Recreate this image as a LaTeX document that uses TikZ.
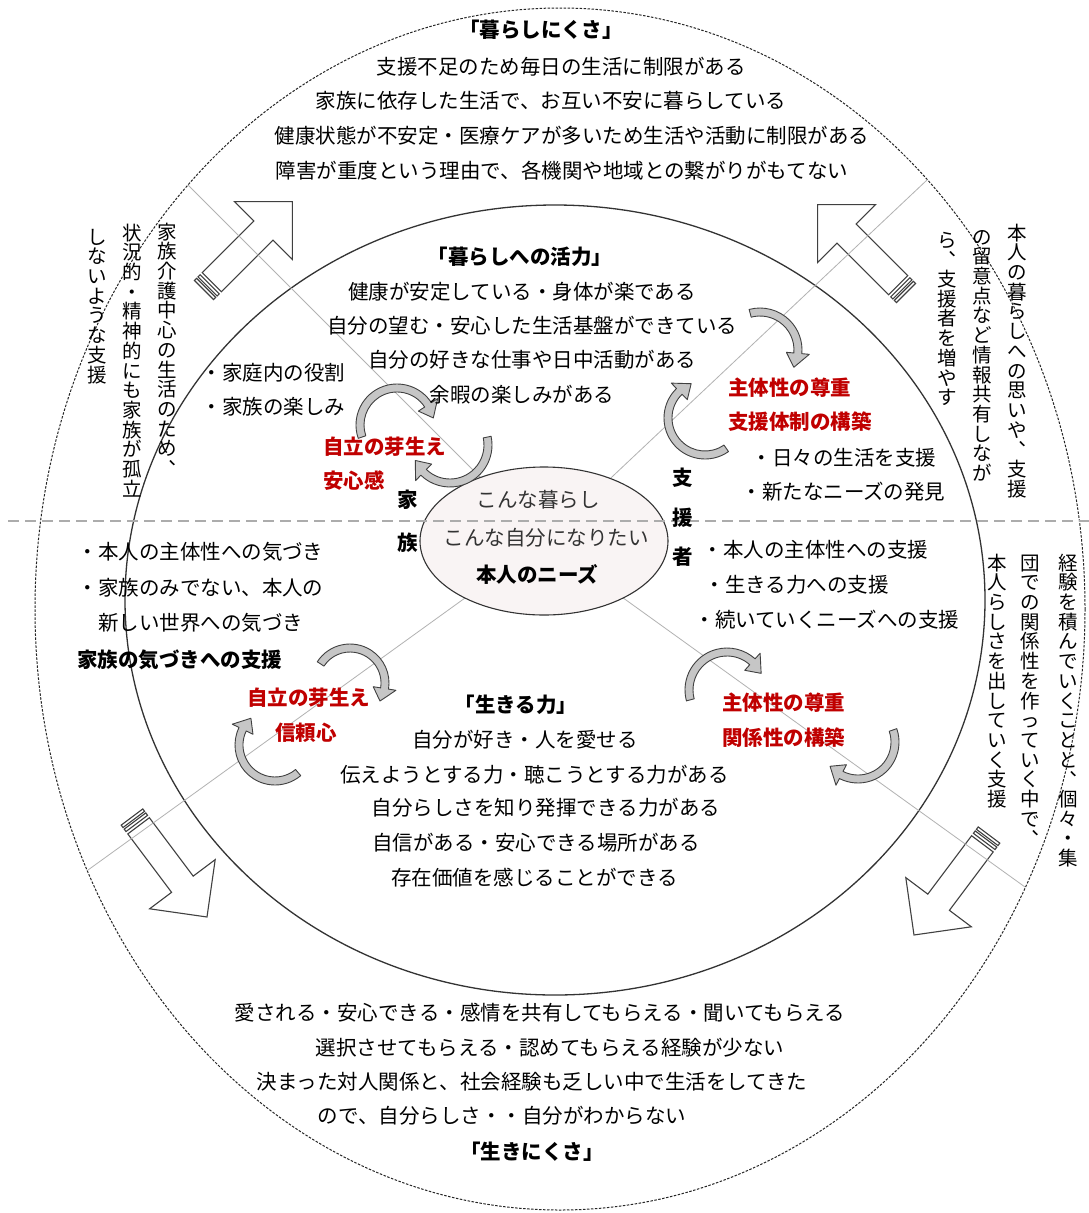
\documentclass[tikz,border=0pt]{standalone}
\usepackage{fontspec}
\usepackage{graphicx}
\setmainfont{Noto Sans CJK JP}
\usetikzlibrary{calc}
\definecolor{jred}{HTML}{C00000}
\makeatletter
\def\vc@comma{、}
\newcommand\vcol[1]{\vbox{\offinterlineskip\@tfor\vc@c:=#1\do{\vc@one}}}
\def\vc@one{\ifx\vc@c\vc@comma
  \hbox to 20pt{\hss\vbox to 19.7pt{\kern2pt\hbox{\rotatebox{180}{\vc@c}}\vss}\hss}%
 \else
  \hbox to 20pt{\hss\vbox to 19.7pt{\kern17.1pt\hbox{\smash{\vc@c}}\vss}\hss}%
 \fi}
\makeatother
\newcommand\bigarrow[3]{%
 \begin{scope}[shift={(#1,#2)}, rotate=#3]
   \draw[barrow] (0,-13.5) rectangle (3,13.5);
   \draw[barrow] (5,-13.5) rectangle (8,13.5);
   \draw[barrow] (11,-13.5) -- (84,-13.5) -- (84,-41) -- (125,0) -- (84,41) -- (84,13.5) -- (11,13.5) -- cycle;
 \end{scope}}
\newcommand\carr[5]{%
  \filldraw[carrow] ($(#1,#2)+(#4:{#3+4})$) arc[start angle=#4, end angle=#5, radius={#3+4}]
   -- ($(#1,#2)+(#5:{#3+11.5})$) -- ($(#1,#2)+({#5+22}:#3)$) -- ($(#1,#2)+(#5:{#3-11.5})$)
   -- ($(#1,#2)+(#5:{#3-4})$) arc[start angle=#5, end angle=#4, radius={#3-4}] -- cycle;}
\begin{document}
\begin{tikzpicture}[x=1pt,y=-1pt,
  every node/.style={inner sep=0pt, outer sep=0pt},
  jp/.style={font=\fontsize{20.5}{24}\selectfont, text height=18pt, text depth=2.5pt},
  jpb/.style={jp, font=\fontsize{20.5}{24}\selectfont\bfseries},
  jr/.style={jpb, text=jred},
  jc/.style={jp, text=black!80},
  vt/.style={font=\fontsize{19.5}{20}\selectfont, anchor=north},
  barrow/.style={draw=black!75, line width=1.1pt, line join=miter},
  carrow/.style={draw=black!75, fill=gray!45, line width=0.9pt, line join=round},
  guide/.style={draw=gray!60, line width=0.8pt}]
\fill[white] (0,0) rectangle (1089,1213);
\useasboundingbox (0,0) rectangle (1089,1213);

% ellipses
\draw[black!85, line width=1pt, dash pattern=on 2.5pt off 1.5pt] (560,609) ellipse [x radius=525, y radius=601];
\draw[black!80, line width=1.3pt] (555,600) ellipse [x radius=430, y radius=395];

% big hollow arrows
\bigarrow{204}{290}{45}
\bigarrow{906}{293}{135}
\bigarrow{132}{817}{-53.13}
\bigarrow{989}{835}{-126.87}

% guide lines
\coordinate (ctr) at (544,541);
\coordinate (gTL) at (188,185);
\coordinate (gTR) at (927,180);
\coordinate (gBL) at (88,870);
\coordinate (gBR) at (1025,887);
\draw[guide] (gTL) -- (ctr);
\draw[guide] (gTR) -- (ctr);
\draw[guide] (gBL) -- (ctr);
\draw[guide] (gBR) -- (ctr);

% centre ellipse
\filldraw[fill={rgb,255:red,249;green,244;blue,244}, draw=black!80, line width=1.1pt] (ctr) ellipse [x radius=124, y radius=74];

% horizontal dashed divider
\coordinate (hL) at (8,521);
\coordinate (hR) at (1089,521);
\draw[gray!65, line width=1.6pt, dash pattern=on 11pt off 6pt] (hL) -- (hR);

% curved arrows
\carr{397}{425}{37}{161}{327}
\carr{450}{445}{38}{-12}{134}
\carr{760}{350}{38}{255}{365}
\carr{705}{418}{37}{55}{226}
\carr{350}{683}{35}{213}{369}
\carr{275}{745}{36}{50}{206}
\carr{727}{690}{38}{165}{312}
\carr{858}{742}{37}{-19}{117}

% top outer text
\node[jpb] (kt) at (541,30) {「暮らしにくさ」};
\node[jp] (k1) at (561,67) {支援不足のため毎日の生活に制限がある};
\node[jp] (k2) at (551,101) {家族に依存した生活で、お互い不安に暮らしている};
\node[jp] (k3) at (572,136) {健康状態が不安定・医療ケアが多いため生活や活動に制限がある};
\node[jp] (k4) at (562,171) {障害が重度という理由で、各機関や地域との繋がりがもてない};

% inner top
\node[jpb] (at) at (520,257) {「暮らしへの活力」};
\node[jp] (a1) at (522,292) {健康が安定している・身体が楽である};
\node[jp] (a2) at (532,326) {自分の望む・安心した生活基盤ができている};
\node[jp] (a3) at (532,360) {自分の好きな仕事や日中活動がある};
\node[jp] (a4) at (522,395) {余暇の楽しみがある};

% upper left quadrant
\node[jp, anchor=west] (l1) at (201.5,373) {・家庭内の役割};
\node[jp, anchor=west] (l2) at (201.5,407) {・家族の楽しみ};
\node[jr, anchor=west] (r1) at (323,447) {自立の芽生え};
\node[jr, anchor=west] (r2) at (323,481) {安心感};
\node[jpb] (fam1) at (408,500) {家};
\node[jpb] (fam2) at (408,543) {族};

% upper right quadrant
\node[jpb] (sup1) at (683,478) {支};
\node[jpb] (sup2) at (683,518) {援};
\node[jpb] (sup3) at (683,557) {者};
\node[jr, anchor=west] (r3) at (728,388) {主体性の尊重};
\node[jr, anchor=west] (r4) at (728,422) {支援体制の構築};
\node[jp, anchor=west] (u1) at (751.5,458) {・日々の生活を支援};
\node[jp, anchor=west] (u2) at (741.5,492) {・新たなニーズの発見};

% centre
\node[jc] (n1) at (538,500) {こんな暮らし};
\node[jc] (n2) at (546,538) {こんな自分になりたい};
\node[jpb] (n3) at (537,575) {本人のニーズ};

% lower left quadrant
\node[jp, anchor=west] (ll1) at (77.5,552) {・本人の主体性への気づき};
\node[jp, anchor=west] (ll2) at (77.5,588) {・家族のみでない、本人の};
\node[jp, anchor=west] (ll3) at (98,623) {新しい世界への気づき};
\node[jpb, anchor=west] (ll4) at (77,660) {家族の気づきへの支援};
\node[jr, anchor=west] (r5) at (247,698) {自立の芽生え};
\node[jr, anchor=west] (r6) at (275,733) {信頼心};

% lower right quadrant
\node[jp, anchor=west] (lr1) at (702.5,550) {・本人の主体性への支援};
\node[jp, anchor=west] (lr2) at (704.5,585) {・生きる力への支援};
\node[jp, anchor=west] (lr3) at (694.5,620) {・続いていくニーズへの支援};
\node[jr, anchor=west] (r7) at (722,703) {主体性の尊重};
\node[jr, anchor=west] (r8) at (722,738) {関係性の構築};

% inner bottom
\node[jpb] (st) at (516,705) {「生きる力」};
\node[jp] (s1) at (525,740) {自分が好き・人を愛せる};
\node[jp] (s2) at (534.5,775) {伝えようとする力・聴こうとする力がある};
\node[jp] (s3) at (546,808) {自分らしさを知り発揮できる力がある};
\node[jp] (s4) at (536,843) {自信がある・安心できる場所がある};
\node[jp] (s5) at (534.5,878) {存在価値を感じることができる};

% outer bottom
\node[jp] (b1) at (540,1013) {愛される・安心できる・感情を共有してもらえる・聞いてもらえる};
\node[jp] (b2) at (550,1048) {選択させてもらえる・認めてもらえる経験が少ない};
\node[jp] (b3) at (532,1082) {決まった対人関係と、社会経験も乏しい中で生活をしてきた};
\node[jp] (b4) at (502,1116) {ので、自分らしさ・・自分がわからない};
\node[jpb] (bt) at (532,1152) {「生きにくさ」};

% vertical texts
\node[vt] (vl1) at (167,222) {\vcol{家族介護中心の生活のため、}};
\node[vt] (vl2) at (132,223) {\vcol{状況的・精神的にも家族が孤立}};
\node[vt] (vl3) at (97,227) {\vcol{しないような支援}};
\node[vt] (vr1) at (1017,223) {\vcol{本人の暮らしへの思いや、支援}};
\node[vt] (vr2) at (982,227) {\vcol{の留意点など情報共有しなが}};
\node[vt] (vr3) at (947,230) {\vcol{ら、支援者を増やす}};
\node[vt] (vb1) at (1068,553) {\vcol{経験を積んでいくことと、個々・集}};
\node[vt] (vb2) at (1030,553) {\vcol{団での関係性を作っていく中で、}};
\node[vt] (vb3) at (997,553) {\vcol{本人らしさを出していく支援}};
\end{tikzpicture}
\end{document}
